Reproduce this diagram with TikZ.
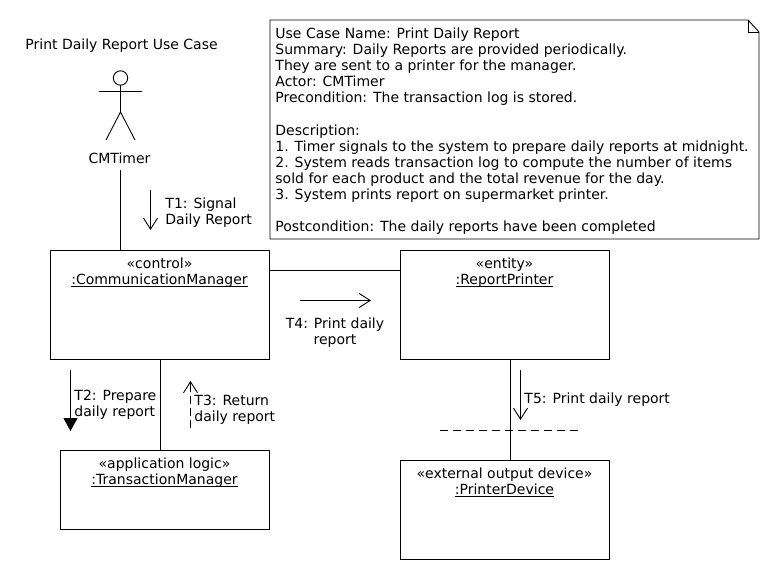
\documentclass[tikz,border=0pt]{standalone}
\usepackage{fontspec}
\setmainfont{DejaVu Sans}
\usetikzlibrary{arrows.meta}
\newcommand{\ulname}[1]{\leavevmode\setbox0\hbox{#1}\rlap{\rule[-2.2pt]{\wd0}{0.5pt}}#1}
\tikzset{
  x=1pt,y=-1pt,
  every path/.style={line width=0.9pt,line cap=butt},
  txt/.style={font=\fontsize{14}{16.1}\selectfont,inner sep=0pt,align=center},
  txtl/.style={txt,align=left,anchor=north west},
  objbox/.style={draw,rectangle,inner sep=0pt,outer sep=0pt,anchor=north west},
  assoc/.style={draw},
  openarrow/.style={-{Straight Barb[length=11pt,width=14pt,line width=0.9pt]}},
  fillarrow/.style={-{Triangle[length=13pt,width=14pt]}},
}
\begin{document}
\begin{tikzpicture}
\useasboundingbox (0,0) rectangle (780,580);
% title
\node[txtl] (title) at (25,38.5) {Print Daily Report Use Case};
% note
\draw (270,20) -- (748,20) -- (759,32) -- (759,239) -- (270,239) -- cycle;
\draw (748,20) -- (748,32) -- (759,32);
\node[txtl] (note) at (275,27.5) {Use Case Name: Print Daily Report\\
Summary: Daily Reports are provided periodically.\\
They are sent to a printer for the manager.\\
Actor: CMTimer\\
Precondition: The transaction log is stored.\\[16.1pt]
Description:\\
1. Timer signals to the system to prepare daily reports at midnight.\\
2. System reads transaction log to compute the number of items\\
sold for each product and the total revenue for the day.\\
3. System prints report on supermarket printer.\\[16.1pt]
Postcondition: The daily reports have been completed};
% actor
\draw (120.5,78) circle[radius=7.2];
\draw (120.5,85) -- (120.5,112);
\draw (99,91) -- (142,91);
\draw (106,140) -- (120.5,112) -- (135,140);
\node[txt,anchor=center] (timer) at (119.5,158) {CMTimer};
\coordinate (timerend) at (120.5,170);
% boxes
\node[objbox,minimum width=219pt,minimum height=109pt] (cm) at (50.5,250.5) {};
\node[objbox,minimum width=209pt,minimum height=109pt] (rp) at (400.5,250.5) {};
\node[objbox,minimum width=209pt,minimum height=79pt] (tm) at (60.5,450.5) {};
\node[objbox,minimum width=209pt,minimum height=99pt] (pd) at (400.5,460.5) {};
% box labels
\node[txt,anchor=north] (cmt) at (159.5,257.5) {«control»\\\ulname{:CommunicationManager}};
\node[txt,anchor=north] (rpt) at (504.5,257.5) {«entity»\\\ulname{:ReportPrinter}};
\node[txt,anchor=north] (tmt) at (164.5,457.5) {«application logic»\\\ulname{:TransactionManager}};
\node[txt,anchor=north] (pdt) at (504.5,467.5) {«external output device»\\\ulname{:PrinterDevice}};
% links
\coordinate (cx) at (160.5,0);
\coordinate (rx) at (510.5,0);
\coordinate (ly) at (0,270.5);
\draw[assoc] (timerend) -- (cm.north -| timerend);
\draw[assoc] (cm.south -| cx) -- (tm.north -| cx);
\draw[assoc] (cm.east |- ly) -- (rp.west |- ly);
\draw[assoc] (rp.south -| rx) -- (pd.north -| rx);
% boundary
\coordinate (bl) at (440,430.5);
\coordinate (br) at (579,430.5);
\draw[dash pattern=on 8pt off 5pt] (bl) -- (br);
% message arrows
\coordinate (a1s) at (150.5,190); \coordinate (a1e) at (150.5,230);
\coordinate (a2s) at (70.5,370);  \coordinate (a2e) at (70.5,431);
\coordinate (a3s) at (190.5,428); \coordinate (a3e) at (190.5,381);
\coordinate (a4s) at (300,300.5); \coordinate (a4e) at (371,300.5);
\coordinate (a5s) at (520.5,370); \coordinate (a5e) at (520.5,420);
\draw[openarrow] (a1s) -- (a1e);
\draw[fillarrow] (a2s) -- (a2e);
\draw[dash pattern=on 8pt off 4pt] (a3s) -- (190.5,392);
\draw[openarrow] (190.5,392) -- (a3e);
\draw[openarrow] (a4s) -- (a4e);
\draw[openarrow] (a5s) -- (a5e);
% message labels
\node[txtl] (t1) at (165,197.5) {T1: Signal\\Daily Report};
\node[txtl] (t2) at (74,389.5) {T2: Prepare\\daily report};
\node[txtl] (t3) at (194,394.5) {T3: Return\\daily report};
\node[txt,anchor=north] (t4) at (335,317.5) {T4: Print daily\\report};
\node[txtl] (t5) at (524,392) {T5: Print daily report};
\end{tikzpicture}
\end{document}
